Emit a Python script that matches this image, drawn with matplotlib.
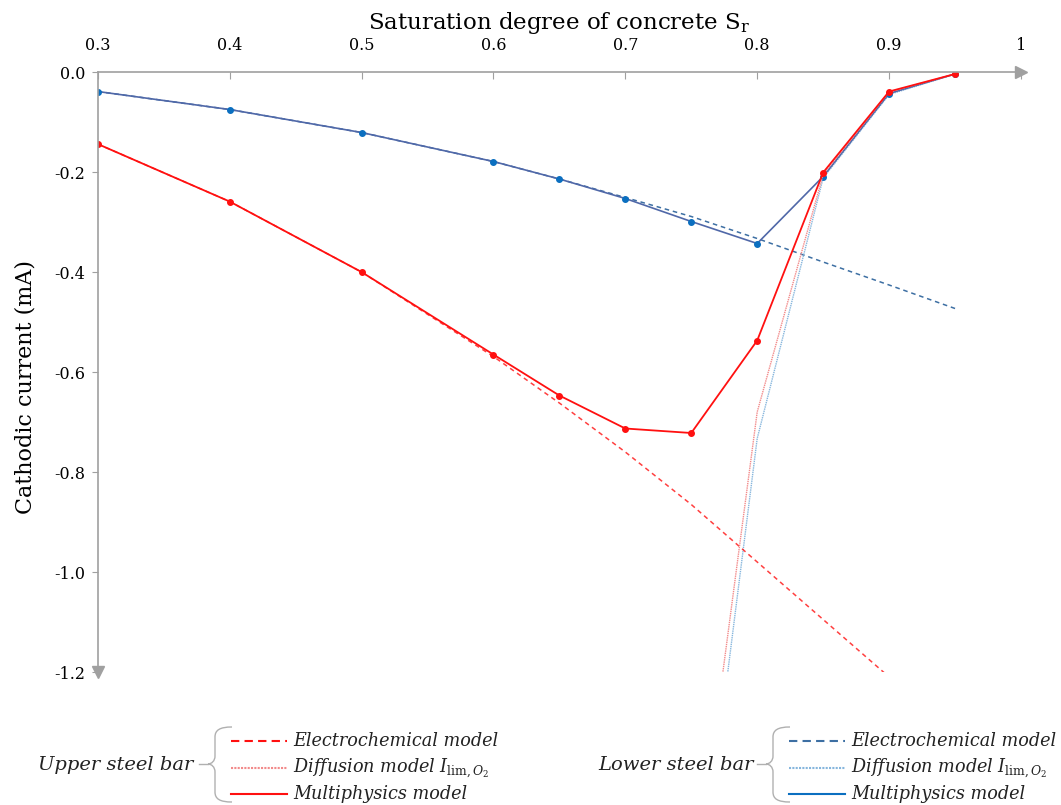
import numpy as np
import matplotlib
matplotlib.use('Agg')
from matplotlib import pyplot as plt
from matplotlib.lines import Line2D
from matplotlib.path import Path
from matplotlib.patches import PathPatch

plt.rcParams['font.family'] = ['DejaVu Serif']
plt.rcParams['mathtext.fontset'] = 'dejavuserif'

# saturation degree of concrete
sr = [0.3, 0.4, 0.5, 0.6, 0.65, 0.7, 0.75, 0.8, 0.85, 0.9, 0.95]

# upper steel bar (red)
upper_electro = [-0.144, -0.259, -0.400, -0.569, -0.662, -0.760, -0.865, -0.980, -1.095, -1.210, None]
upper_diff_sr = [0.75, 0.8, 0.85, 0.9, 0.95]
upper_diff = [-1.68, -0.68, -0.205, -0.040, -0.004]
upper_multi = [-0.144, -0.259, -0.400, -0.565, -0.647, -0.713, -0.722, -0.537, -0.201, -0.039, -0.004]

# lower steel bar (blue)
lower_electro = [-0.039, -0.075, -0.121, -0.179, -0.214, -0.251, -0.289, -0.333, -0.380, -0.426, -0.473]
lower_diff_sr = [0.75, 0.8, 0.85, 0.9, 0.95]
lower_diff = [-1.78, -0.733, -0.212, -0.045, -0.004]
lower_multi = [-0.039, -0.075, -0.121, -0.179, -0.214, -0.253, -0.299, -0.343, -0.209, -0.043, -0.004]

xticks = [0.3, 0.4, 0.5, 0.6, 0.7, 0.8, 0.9, 1.0]
xticklabels = ['0.3', '0.4', '0.5', '0.6', '0.7', '0.8', '0.9', '1']
yticks = [0.0, -0.2, -0.4, -0.6, -0.8, -1.0, -1.2]

red = '#FF1010'
red_light = '#F28A8A'
blue_line = '#5068A8'
blue_mark = '#0B6FC0'
blue_dash = '#3D6FA3'
blue_light = '#86B6DD'

W, H = 1061, 805
fig = plt.figure(figsize=(W / 100, H / 100), dpi=100)
ax = fig.add_axes([97.7 / W, 1 - 672 / H, (1021 - 97.7) / W, 600 / H])

def px(x, y):
    return x / W, 1 - y / H

# lower bar
le = [v if v is not None else np.nan for v in lower_electro]
ax.plot(sr, le, color=blue_dash, lw=1.1, ls=(0, (3, 2.5)))
ax.plot(lower_diff_sr, lower_diff, color=blue_light, lw=1.0, ls=(0, (1, 0.6)))
ax.plot(sr, lower_multi, color=blue_line, lw=1.2, marker='o', ms=4,
        mfc=blue_mark, mec=blue_mark)

# upper bar
ue = [v if v is not None else np.nan for v in upper_electro]
ax.plot(sr, ue, color=red, lw=1.1, ls=(0, (3, 2.5)), alpha=0.8)
ax.plot(upper_diff_sr, upper_diff, color=red_light, lw=1.0, ls=(0, (1, 0.6)))
ax.plot(sr, upper_multi, color=red, lw=1.3, marker='o', ms=4,
        mfc=red, mec=red)

ax.set_xlim(0.3, 1.0)
ax.set_ylim(-1.2, 0.0)

ax.xaxis.tick_top()
ax.xaxis.set_label_position('top')
ax.set_xticks(xticks)
ax.set_xticklabels(xticklabels)
ax.set_yticks(yticks)
ax.set_yticklabels(['%.1f' % v if v == 0 else '-%.1f' % abs(v) for v in yticks])
ax.tick_params(axis='x', direction='in', length=5, color='#A0A0A0', labelsize=11.5, pad=13)
ax.tick_params(axis='y', direction='out', length=4, color='#A0A0A0', labelsize=11.5, pad=5)

for s in ['right', 'bottom']:
    ax.spines[s].set_visible(False)
for s in ['top', 'left']:
    ax.spines[s].set_color('#A0A0A0')
    ax.spines[s].set_linewidth(1.2)

# axis arrows
ax.plot(1.0, 1.0, marker='>', ms=8, color='#A0A0A0', transform=ax.transAxes, clip_on=False)
ax.plot(0.0, 0.0, marker='v', ms=8, color='#A0A0A0', transform=ax.transAxes, clip_on=False)

ax.set_xlabel(r'Saturation degree of concrete $\mathrm{S_r}$', fontsize=16.5, labelpad=6)
ax.set_ylabel('Cathodic current (mA)', fontsize=16)
ax.yaxis.set_label_coords(-0.066, 0.475)

# legend groups under the plot
def brace(x, y0, y1, ytip):
    xs = x - 17
    verts = [px(x, y0), px(x - 12, y0), px(xs, y0 + 3), px(xs, y0 + 10),
             px(xs, ytip - 8), px(xs, ytip - 3), px(xs - 3.5, ytip), px(xs - 7, ytip),
             px(xs - 3.5, ytip), px(xs, ytip + 3), px(xs, ytip + 8),
             px(xs, y1 - 10), px(xs, y1 - 3), px(x - 12, y1), px(x, y1)]
    codes = [Path.MOVETO, Path.CURVE4, Path.CURVE4, Path.CURVE4,
             Path.LINETO, Path.CURVE4, Path.CURVE4, Path.CURVE4,
             Path.CURVE4, Path.CURVE4, Path.CURVE4,
             Path.LINETO, Path.CURVE4, Path.CURVE4, Path.CURVE4]
    fig.patches.append(PathPatch(Path(verts, codes), fc='none', ec='#B0B0B0', lw=1.0,
                                 transform=fig.transFigure))

groups = [('Upper steel bar', 38, 232, [red, red_light, red]),
          ('Lower steel bar', 598, 790, [blue_dash, blue_light, blue_mark])]
labels = ['Electrochemical model', r'Diffusion model $I_{\mathrm{lim},O_2}$', 'Multiphysics model']
styles = [(0, (4, 2.5)), (0, (1, 0.6)), '-']
rows = [741, 768, 794]

for name, xt, xb, cols in groups:
    fig.text(*px(xt, 765), name, fontsize=14, style='italic', va='center', ha='left', color='#222222')
    brace(xb, 727, 802, 764)
    fig.add_artist(Line2D([px(xb - 33, 764)[0], px(xb - 24, 764)[0]], [px(0, 764)[1]] * 2,
                          color='#B0B0B0', lw=1.0))
    for r, lab, st, c in zip(rows, labels, styles, cols):
        fig.add_artist(Line2D([px(xb - 1, r)[0], px(xb + 55, r)[0]], [px(0, r)[1]] * 2,
                              color=c, lw=1.5, ls=st))
        fig.text(*px(xb + 61, r), lab, fontsize=12.7, style='italic', va='center', ha='left',
                 color='#222222')

plt.savefig('out.png', dpi=100)
